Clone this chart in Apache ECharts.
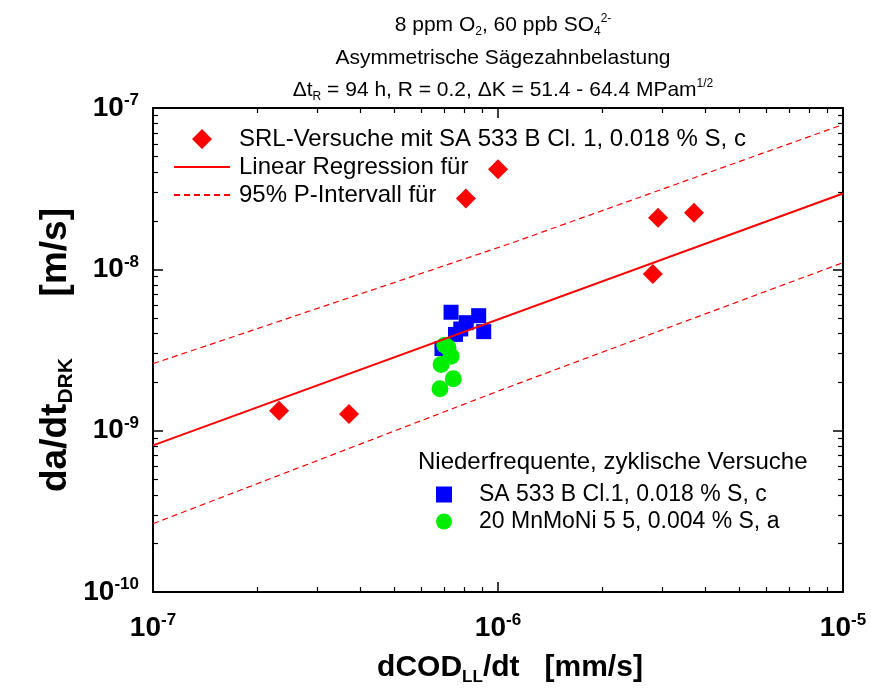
<!DOCTYPE html>
<html>
<head>
<meta charset="utf-8">
<script src="https://cdn.jsdelivr.net/npm/echarts@6/dist/echarts.min.js"></script>
<style>
html,body{margin:0;padding:0;background:#fff;}
#chart{width:871px;height:692px;}
</style>
</head>
<body>
<div id="chart"></div>
<script>
// ---- data ----
const srlPoints = [
  [2.32e-7, 1.33e-9], [3.70e-7, 1.27e-9], [8.07e-7, 2.75e-8], [1.0e-6, 4.17e-8],
  [2.81e-6, 9.35e-9], [2.91e-6, 2.09e-8], [3.70e-6, 2.24e-8]
];
const regressionLine = [[1e-7, 8.1e-10], [1e-5, 2.95e-8]];
const upperInterval = [[1e-7, 2.6e-9], [1.1e-6, 1.46e-8], [1e-5, 7.9e-8]];
const lowerInterval = [[1e-7, 2.65e-10], [1.1e-6, 1.9e-9], [1e-5, 1.1e-8]];
const sa533Points = [
  [7.31e-7, 5.42e-9], [8.79e-7, 5.16e-9], [9.09e-7, 4.11e-9], [8.09e-7, 4.67e-9],
  [7.80e-7, 4.27e-9], [7.53e-7, 3.95e-9], [6.88e-7, 3.23e-9]
];
const mnmoniPoints = [
  [7.01e-7, 3.39e-9], [7.16e-7, 3.28e-9], [7.31e-7, 2.89e-9], [6.84e-7, 2.57e-9],
  [7.42e-7, 2.10e-9], [6.79e-7, 1.82e-9]
];
const xDecades = [-7, -6, -5];
const yDecades = [-10, -9, -8, -7];
const minorMultipliers = [2, 3, 4, 5, 6, 7, 8, 9];

const names = {
  srl: 'SRL-Versuche mit SA 533 B Cl. 1, 0.018 % S, c',
  reg: 'Linear Regression für',
  pi: '95% P-Intervall für',
  sa: 'SA 533 B Cl.1, 0.018 % S, c',
  mn: '20 MnMoNi 5 5, 0.004 % S, a'
};

function minorLogs(decades) {
  const out = [];
  for (let i = 0; i < decades.length - 1; i++) {
    minorMultipliers.forEach(m => out.push(decades[i] + Math.log10(m)));
  }
  return out;
}

const FONT = 'Liberation Sans, Arial, sans-serif';
const RED = '#ff0000';

const tickLabelRich = {
  b: {fontFamily: FONT, fontWeight: 'bold', fontSize: 28, color: '#000'},
  s: {fontFamily: FONT, fontWeight: 'bold', fontSize: 17, color: '#000', padding: [0, 0, 15, 0]}
};
function expLabel(v) {
  const e = Math.round(Math.log10(v));
  return '{b|10}{s|' + e + '}';
}

const majorLine = {show: true, onZero: false, lineStyle: {color: '#000', width: 2}};
const noLine = {show: false, onZero: false};

function logAxis(pos, min, max, split, labels, margin) {
  return {
    type: 'log', logBase: 10, min: min, max: max, splitNumber: split, position: pos,
    axisLine: majorLine,
    axisTick: {show: true, inside: true, length: 10, lineStyle: {color: '#000', width: 1.5}},
    axisLabel: labels ? {show: true, formatter: expLabel, rich: tickLabelRich, margin: margin} : {show: false},
    splitLine: {show: false}
  };
}
function minorAxis(pos, decades) {
  return {
    type: 'value', min: decades[0], max: decades[decades.length - 1], position: pos,
    axisLine: noLine,
    axisTick: {show: true, inside: true, length: 5, customValues: minorLogs(decades), lineStyle: {color: '#000', width: 1.2}},
    axisLabel: {show: false},
    splitLine: {show: false}
  };
}

const subSup = {
  sub: {fontFamily: FONT, fontSize: 12, padding: [14, 0, 0, 0]},
  sup: {fontFamily: FONT, fontSize: 12, padding: [0, 0, 12, 0]}
};

// legend diamond with a wide (invisible) bounding box so it is not stretched
const diamondIcon = 'path://M0,10L0.01,10L0,10ZM56,10L55.99,10L56,10ZM28,0L38,10L28,20L18,10Z';

const option = {
  backgroundColor: '#fff',
  animation: false,
  grid: {left: 153, right: 28, top: 108, bottom: 100},
  title: [
    {text: '8 ppm O{sub|2}, 60 ppb SO{sub|4}{sup|2-}', left: 498, top: 7, textAlign: 'center',
     textStyle: {fontFamily: FONT, fontSize: 21, fontWeight: 'normal', color: '#000', rich: subSup}},
    {text: 'Asymmetrische Sägezahnbelastung', left: 498, top: 43, textAlign: 'center',
     textStyle: {fontFamily: FONT, fontSize: 21, fontWeight: 'normal', color: '#000'}},
    {text: 'Δt{sub|R} = 94 h, R = 0.2, ΔK = 51.4 - 64.4 MPam{sup|1/2}', left: 498, top: 72, textAlign: 'center',
     textStyle: {fontFamily: FONT, fontSize: 21, fontWeight: 'normal', color: '#000', rich: subSup}}
  ],
  xAxis: [
    logAxis('bottom', 1e-7, 1e-5, 2, true, 20),
    minorAxis('bottom', xDecades),
    logAxis('top', 1e-7, 1e-5, 2, false, 0),
    minorAxis('top', xDecades)
  ],
  yAxis: [
    logAxis('left', 1e-10, 1e-7, 3, true, 14),
    minorAxis('left', yDecades),
    logAxis('right', 1e-10, 1e-7, 3, false, 0),
    minorAxis('right', yDecades)
  ],
  legend: [
    {
      left: 168, top: 122, orient: 'vertical', itemWidth: 56, itemHeight: 20, itemGap: 4,
      textStyle: {fontFamily: FONT, fontSize: 24, color: '#000', padding: [0, 0, 0, 4]},
      data: [
        {name: names.srl, icon: diamondIcon},
        {name: names.reg, itemStyle: {opacity: 0}},
        {name: names.pi, itemStyle: {opacity: 0}}
      ], selectedMode: false
    },
    {
      left: 431, top: 478, orient: 'vertical', itemWidth: 16, itemHeight: 16, itemGap: 4,
      textStyle: {fontFamily: FONT, fontSize: 23, color: '#000', padding: [0, 0, 0, 22]},
      data: [
        {name: names.sa, icon: 'rect'},
        {name: names.mn, icon: 'circle'}
      ], selectedMode: false
    }
  ],
  graphic: [
    {type: 'text', left: 418, top: 450, style: {text: 'Niederfrequente, zyklische Versuche', font: '24px ' + FONT, fill: '#000'}},
    {type: 'text', x: 56, y: 350, rotation: Math.PI / 2,
     style: {text: '{m|da/dt}{sb|DRK}{m|      [m/s]}', align: 'center', verticalAlign: 'middle',
       rich: {m: {fontFamily: FONT, fontWeight: 'bold', fontSize: 37, fill: '#000'},
              sb: {fontFamily: FONT, fontWeight: 'bold', fontSize: 21, fill: '#000', padding: [20, 0, 0, 0]}}}},
    {type: 'text', x: 510, y: 668,
     style: {text: '{m|dCOD}{sb|LL}{m|/dt   [mm/s]}', align: 'center', verticalAlign: 'middle',
       rich: {m: {fontFamily: FONT, fontWeight: 'bold', fontSize: 30, fill: '#000'},
              sb: {fontFamily: FONT, fontWeight: 'bold', fontSize: 17, fill: '#000', padding: [18, 0, 0, 0]}}}}
  ],
  series: [
    {name: names.pi, type: 'line', data: upperInterval, symbol: 'none', xAxisIndex: 0, yAxisIndex: 0,
     lineStyle: {color: RED, width: 1.2, type: [6, 4]}, itemStyle: {color: RED}},
    {name: names.pi, type: 'line', data: lowerInterval, symbol: 'none', xAxisIndex: 0, yAxisIndex: 0,
     lineStyle: {color: RED, width: 1.2, type: [6, 4]}, itemStyle: {color: RED}},
    {name: names.reg, type: 'line', data: regressionLine, symbol: 'none', xAxisIndex: 0, yAxisIndex: 0,
     lineStyle: {color: RED, width: 2}, itemStyle: {color: RED}},
    {name: names.srl, type: 'scatter', data: srlPoints, symbol: 'diamond', symbolSize: 20, xAxisIndex: 0, yAxisIndex: 0,
     itemStyle: {color: RED, opacity: 1}},
    {name: names.sa, type: 'scatter', data: sa533Points, symbol: 'rect', symbolSize: 15, xAxisIndex: 0, yAxisIndex: 0,
     itemStyle: {color: '#0000ff', opacity: 1}},
    {name: names.mn, type: 'scatter', data: mnmoniPoints, symbol: 'circle', symbolSize: 17, xAxisIndex: 0, yAxisIndex: 0,
     itemStyle: {color: '#00ee00', opacity: 1}}
  ]
};

const chart = echarts.init(document.getElementById('chart'), null, {renderer: 'canvas'});
chart.setOption(option);
</script>
</body>
</html>
